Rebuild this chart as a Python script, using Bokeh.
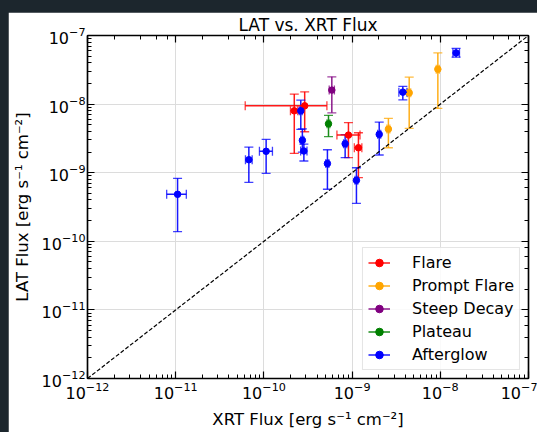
from bokeh.plotting import figure
from bokeh.models import (ColumnDataSource, Whisker, TeeHead, LogAxis, Legend,
                          LegendItem)
from bokeh.embed import file_html
from bokeh.resources import INLINE

# ---------------- data ----------------
categories = ["Flare", "Prompt Flare", "Steep Decay", "Plateau", "Afterglow"]
colors = ["red", "orange", "purple", "green", "blue"]

flare_x = [2.21e-10, 2.90e-10, 9.09e-10, 1.18e-9]
flare_x_lo = [2.00e-10, 6.14e-11, 6.73e-10, 1.06e-9]
flare_x_hi = [2.42e-10, 5.18e-10, 1.23e-9, 1.29e-9]
flare_y = [7.98e-9, 9.44e-9, 3.53e-9, 2.31e-9]
flare_y_lo = [1.91e-9, 3.95e-9, 1.66e-9, 8.45e-10]
flare_y_hi = [1.40e-8, 1.51e-8, 5.37e-9, 3.82e-9]

prompt_x = [2.58e-9, 4.44e-9, 9.38e-9]
prompt_x_lo = [2.48e-9, 4.27e-9, 9.00e-9]
prompt_x_hi = [2.68e-9, 4.62e-9, 9.75e-9]
prompt_y = [4.32e-9, 1.46e-8, 3.23e-8]
prompt_y_lo = [2.31e-9, 4.43e-9, 8.65e-9]
prompt_y_hi = [6.18e-9, 2.47e-8, 5.58e-8]

steep_x = [5.89e-10]
steep_x_lo = [5.50e-10]
steep_x_hi = [6.30e-10]
steep_y = [1.60e-8]
steep_y_lo = [7.46e-9]
steep_y_hi = [2.50e-8]

plateau_x = [5.40e-10]
plateau_x_lo = [5.20e-10]
plateau_x_hi = [5.60e-10]
plateau_y = [5.16e-9]
plateau_y_lo = [3.36e-9]
plateau_y_hi = [6.87e-9]

after_x = [1.05e-11, 6.75e-11, 1.06e-10, 2.62e-10, 2.73e-10, 2.84e-10,
           5.25e-10, 8.34e-10, 1.12e-9, 2.03e-9, 3.76e-9, 1.51e-8]
after_x_lo = [7.9e-12, 6.18e-11, 8.9e-11, 2.52e-10, 2.63e-10, 2.61e-10,
              5.05e-10, 8.00e-10, 1.08e-9, 1.95e-9, 3.39e-9, 1.39e-8]
after_x_hi = [1.32e-11, 7.36e-11, 1.25e-10, 2.72e-10, 2.83e-10, 3.08e-10,
              5.45e-10, 8.70e-10, 1.16e-9, 2.11e-9, 4.18e-9, 1.65e-8]
after_y = [4.84e-10, 1.545e-9, 2.05e-9, 7.98e-9, 2.96e-9, 2.07e-9,
           1.36e-9, 2.64e-9, 7.74e-10, 3.62e-9, 1.494e-8, 5.58e-8]
after_y_lo = [1.38e-10, 7.24e-10, 9.8e-10, 4.28e-9, 2.00e-9, 1.48e-9,
              5.74e-10, 1.66e-9, 3.58e-10, 1.81e-9, 1.154e-8, 4.83e-8]
after_y_hi = [8.28e-10, 2.36e-9, 3.06e-9, 1.14e-8, 4.36e-9, 2.61e-9,
              2.16e-9, 3.60e-9, 1.18e-9, 5.47e-9, 1.81e-8, 6.47e-8]

diag = [1e-12, 1e-7]

groups = [
    (flare_x, flare_x_lo, flare_x_hi, flare_y, flare_y_lo, flare_y_hi),
    (prompt_x, prompt_x_lo, prompt_x_hi, prompt_y, prompt_y_lo, prompt_y_hi),
    (steep_x, steep_x_lo, steep_x_hi, steep_y, steep_y_lo, steep_y_hi),
    (plateau_x, plateau_x_lo, plateau_x_hi, plateau_y, plateau_y_lo, plateau_y_hi),
    (after_x, after_x_lo, after_x_hi, after_y, after_y_lo, after_y_hi),
]

FONT = "DejaVu Sans"

p = figure(x_axis_type="log", y_axis_type="log",
           x_range=(1e-12, 1e-7), y_range=(1e-12, 1e-7),
           frame_width=441, frame_height=343,
           min_border_left=79, min_border_right=9,
           min_border_top=22, min_border_bottom=55,
           margin=(12, 0, 0, 8),
           output_backend="svg", toolbar_location=None,
           title="LAT vs. XRT Flux",
           x_axis_label="XRT Flux [erg s\u207b\u00b9 cm\u207b\u00b2]",
           y_axis_label="LAT Flux [erg s\u207b\u00b9 cm\u207b\u00b2]")

p.background_fill_color = "white"
p.border_fill_color = "white"
p.outline_line_color = "black"
p.outline_line_width = 1.2

p.title.align = "center"
p.title.text_font = FONT
p.title.text_font_size = "17px"
p.title.text_font_style = "normal"
p.title.text_color = "black"
p.title.standoff = 1

p.grid.grid_line_color = "#dcdcdc"
p.grid.grid_line_width = 1

for ax in (p.xaxis[0], p.yaxis[0]):
    ax.major_tick_in = 7
    ax.major_tick_out = 0
    ax.minor_tick_in = 4
    ax.minor_tick_out = 0
    ax.axis_line_width = 1.5
    ax.axis_line_color = "black"
    ax.major_tick_line_color = "black"
    ax.minor_tick_line_color = "black"
    ax.major_tick_line_width = 1.2
    ax.minor_tick_line_width = 1
    ax.major_label_text_font = FONT
    ax.major_label_text_font_size = "16px"
    ax.major_label_text_color = "black"
    ax.axis_label_text_font = FONT
    ax.axis_label_text_font_size = "16.5px"
    ax.axis_label_text_font_style = "normal"
    ax.axis_label_text_color = "black"

p.xaxis.major_label_standoff = 3
p.xaxis.axis_label_standoff = 8
p.yaxis.major_label_standoff = 2
p.yaxis.axis_label_standoff = 7

for side in ("above", "right"):
    extra = LogAxis(major_tick_in=7, major_tick_out=0, minor_tick_in=4,
                    minor_tick_out=0, axis_line_width=1.5,
                    major_tick_line_width=1.2, minor_tick_line_width=1,
                    major_label_text_font_size="1px",
                    major_label_text_color=None, major_label_standoff=0)
    p.add_layout(extra, side)

legend_items = []
for name, color, (gx, gxl, gxh, gy, gyl, gyh) in zip(categories, colors, groups):
    src = ColumnDataSource(dict(x=gx, x_lo=gxl, x_hi=gxh,
                                y=gy, y_lo=gyl, y_hi=gyh))
    vw = Whisker(source=src, base="x", lower="y_lo", upper="y_hi",
                 dimension="height", line_color=color, line_width=1.5,
                 line_alpha=0.9,
                 upper_head=TeeHead(size=9, line_color=color, line_width=1.3, line_alpha=0.75),
                 lower_head=TeeHead(size=9, line_color=color, line_width=1.3, line_alpha=0.75))
    hw = Whisker(source=src, base="y", lower="x_lo", upper="x_hi",
                 dimension="width", line_color=color, line_alpha=0,
                 upper_head=TeeHead(size=9, line_color=color, line_width=1.3, line_alpha=0.75),
                 lower_head=TeeHead(size=9, line_color=color, line_width=1.3, line_alpha=0.75))
    p.add_layout(vw)
    p.add_layout(hw)
    seg = p.segment(x0="x_lo", x1="x_hi", y0="y", y1="y", source=src,
                    line_color=color, line_width=1.5, line_alpha=0.9)
    dots = p.scatter(x="x", y="y", source=src, size=6.5, marker="circle",
                     fill_color=color, line_color=color)
    legend_items.append(LegendItem(label=name, renderers=[seg, dots]))

p.line(diag, diag, line_color="black", line_dash="4 2", line_width=1.2)

legend = Legend(items=legend_items, location="bottom_right",
                margin=8, padding=5, spacing=4,
                glyph_width=22, glyph_height=19, label_height=19,
                label_standoff=22,
                label_text_font=FONT, label_text_font_size="16px",
                label_text_color="black",
                background_fill_color="white", background_fill_alpha=0.85,
                border_line_color="#cccccc", border_line_width=1)
p.add_layout(legend)

css = "<style>html,body{background:#1c262d;}</style>"
open("out.html", "w").write(file_html(p, INLINE).replace("</head>", css + "</head>", 1))
